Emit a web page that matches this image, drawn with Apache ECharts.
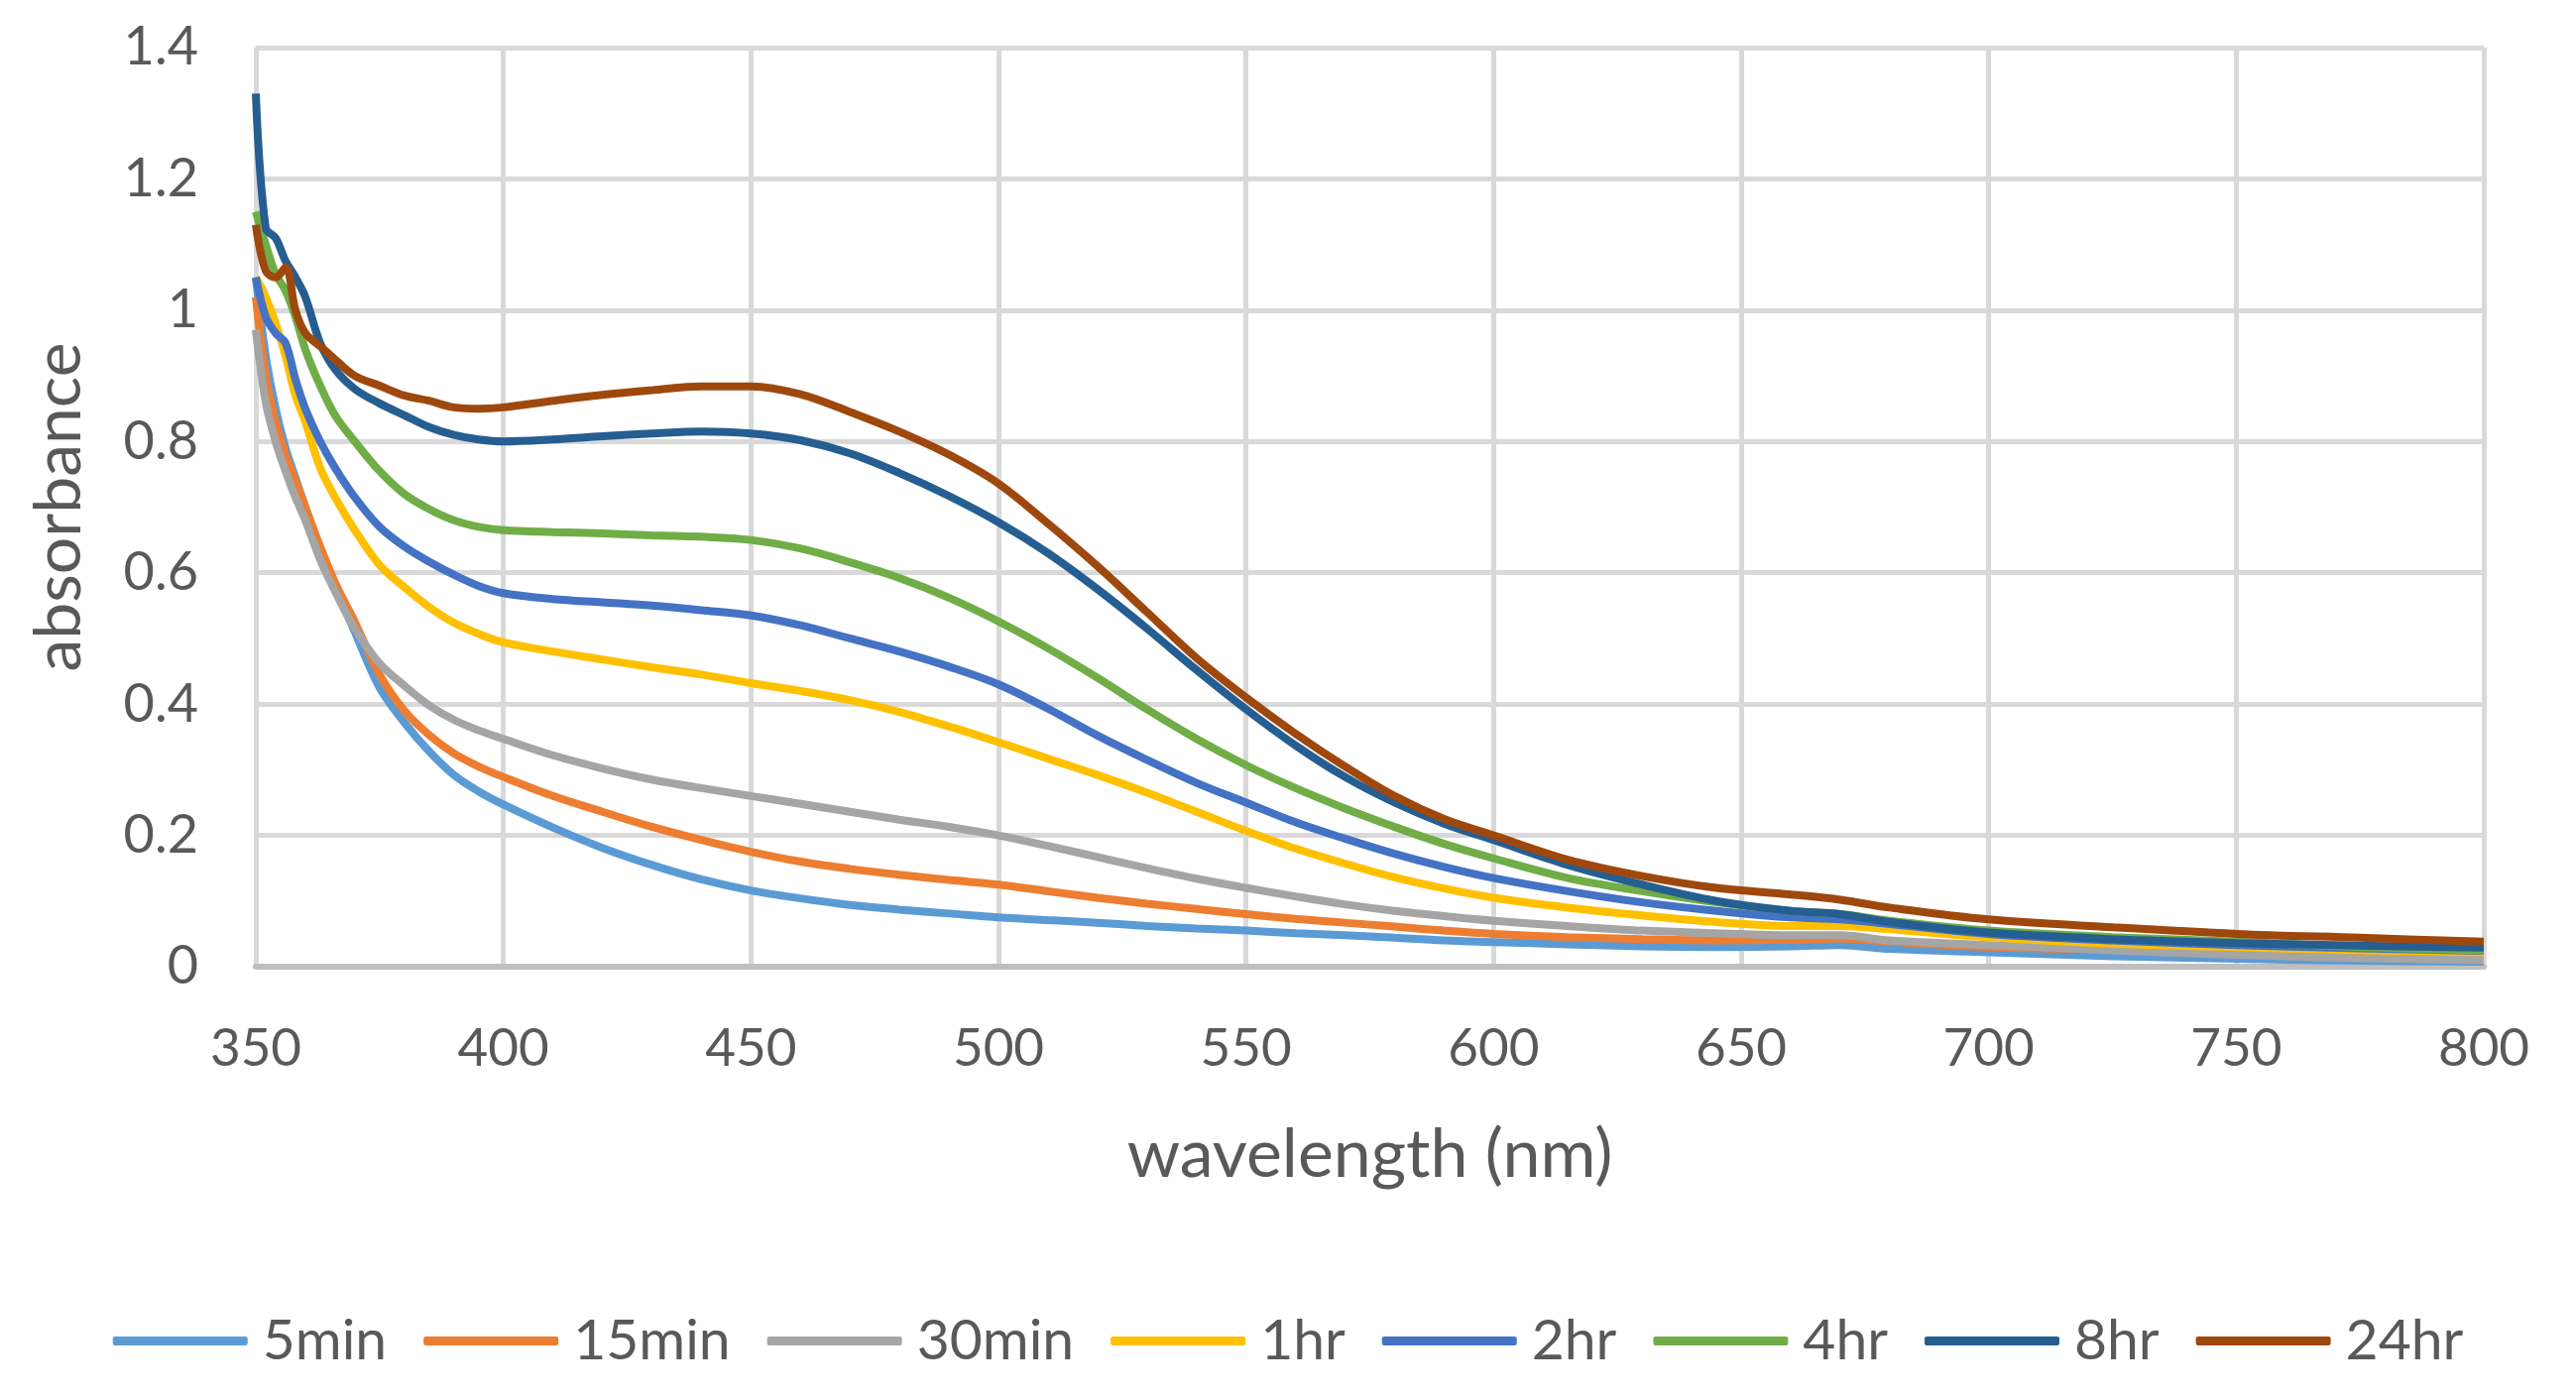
<!DOCTYPE html>
<html>
<head>
<meta charset="utf-8">
<script src="https://cdn.jsdelivr.net/npm/echarts@6/dist/echarts.min.js"></script>
<style>
  html, body { margin: 0; padding: 0; background: #ffffff; }
  #absorbance-chart { width: 2598px; height: 1408px; }
</style>
</head>
<body>
<div id="absorbance-chart"></div>
<script>
// Longitudes de onda (nm)
var wavelengths = [350, 352, 354, 356, 358, 360, 363, 366, 370, 375, 380, 385, 390, 395, 400,
  410, 420, 430, 440, 450, 460, 470, 480, 490, 500, 510, 520, 530, 540, 550, 560, 570, 580, 590, 600,
  615, 630, 645, 660, 670, 680, 700, 725, 750, 775, 800];

// Absorbancia de cada muestra
var abs5min = [1.05, 0.93, 0.85, 0.79, 0.745, 0.70, 0.635, 0.58, 0.51, 0.425, 0.372, 0.328, 0.292, 0.267, 0.247,
  0.212, 0.181, 0.155, 0.133, 0.116, 0.104, 0.094, 0.087, 0.081, 0.075, 0.071, 0.067, 0.062, 0.058, 0.055, 0.051, 0.048, 0.044, 0.04, 0.0375,
  0.034, 0.031, 0.03, 0.031, 0.033, 0.027, 0.022, 0.016, 0.012, 0.009, 0.0075];
var abs15min = [1.02, 0.90, 0.83, 0.78, 0.74, 0.70, 0.64, 0.585, 0.525, 0.445, 0.39, 0.353, 0.325, 0.305, 0.289,
  0.26, 0.236, 0.213, 0.193, 0.175, 0.16, 0.149, 0.14, 0.132, 0.125, 0.115, 0.105, 0.096, 0.088, 0.08, 0.073, 0.067, 0.061, 0.055, 0.05,
  0.045, 0.042, 0.04, 0.041, 0.043, 0.038, 0.03, 0.026, 0.023, 0.021, 0.02];
var abs30min = [0.97, 0.86, 0.80, 0.755, 0.715, 0.68, 0.62, 0.572, 0.515, 0.462, 0.428, 0.398, 0.376, 0.36, 0.347,
  0.322, 0.302, 0.285, 0.272, 0.26, 0.248, 0.236, 0.224, 0.213, 0.20, 0.184, 0.167, 0.15, 0.134, 0.12, 0.107, 0.095, 0.085, 0.077, 0.07,
  0.062, 0.055, 0.051, 0.048, 0.048, 0.04, 0.033, 0.025, 0.018, 0.013, 0.01];
var abs1hr = [1.05, 1.02, 0.98, 0.93, 0.87, 0.83, 0.76, 0.715, 0.665, 0.612, 0.578, 0.548, 0.524, 0.507, 0.494,
  0.48, 0.468, 0.456, 0.445, 0.432, 0.42, 0.406, 0.388, 0.366, 0.342, 0.317, 0.292, 0.265, 0.236, 0.207, 0.18, 0.157, 0.136, 0.119, 0.105,
  0.09, 0.078, 0.068, 0.062, 0.062, 0.057, 0.045, 0.035, 0.03, 0.025, 0.022];
var abs2hr = [1.05, 0.99, 0.965, 0.95, 0.895, 0.85, 0.80, 0.76, 0.715, 0.67, 0.64, 0.617, 0.597, 0.58, 0.569,
  0.56, 0.555, 0.55, 0.543, 0.535, 0.52, 0.50, 0.48, 0.457, 0.43, 0.393, 0.352, 0.315, 0.28, 0.25, 0.22, 0.195, 0.172, 0.152, 0.135,
  0.115, 0.098, 0.085, 0.075, 0.072, 0.065, 0.05, 0.04, 0.033, 0.028, 0.024];
var abs4hr = [1.15, 1.10, 1.055, 1.03, 0.99, 0.94, 0.885, 0.84, 0.80, 0.755, 0.72, 0.697, 0.68, 0.67, 0.665,
  0.662, 0.66, 0.657, 0.655, 0.65, 0.637, 0.616, 0.592, 0.562, 0.526, 0.485, 0.44, 0.392, 0.347, 0.307, 0.272, 0.241, 0.213, 0.187, 0.165,
  0.135, 0.115, 0.098, 0.085, 0.08, 0.07, 0.055, 0.045, 0.038, 0.03, 0.025];
var abs8hr = [1.33, 1.125, 1.11, 1.075, 1.05, 1.02, 0.95, 0.91, 0.88, 0.858, 0.84, 0.822, 0.81, 0.803, 0.80,
  0.803, 0.808, 0.812, 0.815, 0.812, 0.802, 0.782, 0.752, 0.717, 0.677, 0.63, 0.575, 0.515, 0.452, 0.392, 0.337, 0.289, 0.25, 0.218, 0.193,
  0.155, 0.125, 0.1, 0.085, 0.08, 0.068, 0.052, 0.042, 0.036, 0.032, 0.029];
var abs24hr = [1.13, 1.06, 1.05, 1.065, 1.0, 0.965, 0.945, 0.925, 0.90, 0.885, 0.87, 0.862, 0.852, 0.85, 0.852,
  0.862, 0.871, 0.878, 0.884, 0.884, 0.872, 0.845, 0.815, 0.78, 0.736, 0.675, 0.61, 0.54, 0.47, 0.41, 0.355, 0.305, 0.26, 0.225, 0.20,
  0.163, 0.138, 0.12, 0.11, 0.102, 0.09, 0.072, 0.06, 0.05, 0.044, 0.038];

var seriesNames = ['5min', '15min', '30min', '1hr', '2hr', '4hr', '8hr', '24hr'];
var seriesValues = [abs5min, abs15min, abs30min, abs1hr, abs2hr, abs4hr, abs8hr, abs24hr];
var seriesColors = ['#5B9BD5', '#ED7D31', '#A5A5A5', '#FFC000', '#4472C4', '#70AD47', '#255E91', '#9E480E'];

var chartDom = document.getElementById('absorbance-chart');
var myChart = echarts.init(chartDom);

var textColor = '#595959';
var fontName = 'Lato';

// Construir las series a partir de los arrays
var series = seriesNames.map(function(name, k) {
  return {
    name: name,
    type: 'line',
    data: wavelengths.map(function(w, i) { return [w, seriesValues[k][i]]; }),
    smooth: 0.35,
    showSymbol: false,
    lineStyle: { width: 8, color: seriesColors[k] },
    itemStyle: { color: seriesColors[k] }
  };
});

var option = {
  backgroundColor: '#ffffff',
  animation: false,
  grid: {
    left: 258,
    right: 93,
    top: 48,
    bottom: 433
  },
  xAxis: {
    type: 'value',
    min: 350,
    max: 800,
    interval: 50,
    name: 'wavelength (nm)',
    nameLocation: 'middle',
    nameGap: 156,
    nameTextStyle: { fontFamily: fontName, fontSize: 68, color: textColor },
    axisLine: { show: true, onZero: false, lineStyle: { color: '#bfbfbf', width: 6 } },
    axisTick: { show: false },
    axisLabel: { fontFamily: fontName, fontSize: 53, color: textColor, margin: 56 },
    splitLine: { show: true, lineStyle: { color: '#d9d9d9', width: 5 } }
  },
  yAxis: {
    type: 'value',
    min: 0,
    max: 1.4,
    interval: 0.2,
    name: 'absorbance',
    nameLocation: 'middle',
    nameGap: 165,
    nameTextStyle: { fontFamily: fontName, fontSize: 66, color: textColor },
    axisLine: { show: false },
    axisTick: { show: false },
    axisLabel: { fontFamily: fontName, fontSize: 54, color: textColor, margin: 58 },
    splitLine: { show: true, lineStyle: { color: '#d9d9d9', width: 5 } }
  },
  legend: {
    data: seriesNames,
    bottom: 22,
    left: 'center',
    icon: 'roundRect',
    itemWidth: 136,
    itemHeight: 9,
    itemGap: 37,
    textStyle: { fontFamily: fontName, fontSize: 57, color: textColor, padding: [0, 0, 0, 10] }
  },
  series: series
};

myChart.setOption(option);
</script>
</body>
</html>
